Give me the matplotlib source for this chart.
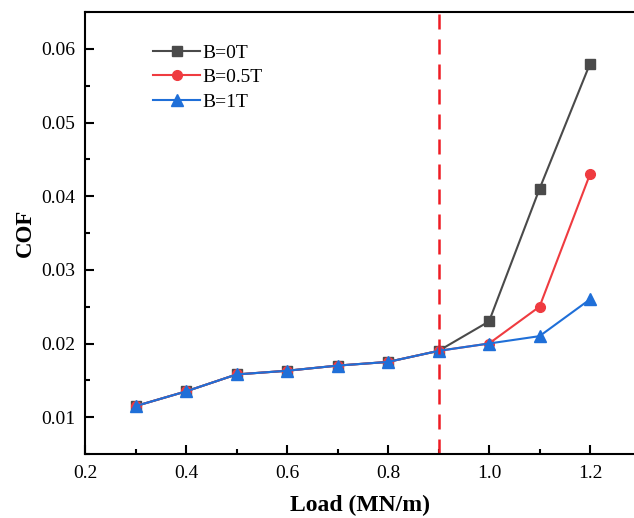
import matplotlib
matplotlib.use("Agg")
import matplotlib.pyplot as plt
from matplotlib.ticker import MultipleLocator

load = [0.3, 0.4, 0.5, 0.6, 0.7, 0.8, 0.9, 1.0, 1.1, 1.2]
cof_0T = [0.0115, 0.0135, 0.0158, 0.0163, 0.0170, 0.0175, 0.0190, 0.0230, 0.0410, 0.0580]
cof_05T = [0.0115, 0.0135, 0.0158, 0.0163, 0.0170, 0.0175, 0.0190, 0.0200, 0.0250, 0.0430]
cof_1T = [0.0115, 0.0135, 0.0158, 0.0163, 0.0170, 0.0175, 0.0190, 0.0200, 0.0210, 0.0260]
labels = ["B=0T", "B=0.5T", "B=1T"]
vline_x = 0.9

plt.rcParams['font.family'] = ['Liberation Serif', 'DejaVu Serif']

fig = plt.figure(figsize=(6.34, 5.18), dpi=100)
ax = fig.add_axes([85/634, 1-454/518, 1-85/634, (454-12)/518])

ax.plot(load, cof_0T, '-s', color='#4a4a4a', lw=1.5, ms=7, label=labels[0])
ax.plot(load, cof_05T, '-o', color='#ef3b40', lw=1.5, ms=7, label=labels[1])
ax.plot(load, cof_1T, '-^', color='#1f6fd8', lw=1.5, ms=8, label=labels[2])
ax.axvline(vline_x, color='#ee1c24', ls=(0, (6, 4)), lw=1.8)

ax.set_xlim(0.2, 1.287)
ax.set_ylim(0.005, 0.065)
ax.xaxis.set_minor_locator(MultipleLocator(0.1))
ax.yaxis.set_minor_locator(MultipleLocator(0.005))
ax.set_xticks([0.2, 0.4, 0.6, 0.8, 1.0, 1.2])
ax.set_xticklabels(['0.2', '0.4', '0.6', '0.8', '1.0', '1.2'])
ax.set_yticks([0.01, 0.02, 0.03, 0.04, 0.05, 0.06])
ax.set_yticklabels(['0.01', '0.02', '0.03', '0.04', '0.05', '0.06'])
ax.tick_params(which='major', direction='in', length=6.5, width=1.5, labelsize=14)
ax.tick_params(which='minor', direction='in', length=3.5, width=1.5)
ax.tick_params(axis='y', which='major', pad=7)
ax.tick_params(axis='x', which='major', pad=8)
ax.tick_params(top=False, right=False, which='both')
for s in ['left', 'bottom', 'top']:
    ax.spines[s].set_linewidth(1.5)
ax.spines['right'].set_visible(False)

ax.set_xlabel('Load (MN/m)', fontsize=17, fontweight='bold', labelpad=9)
ax.set_ylabel('COF', fontsize=16.5, fontweight='bold', labelpad=4)

ax.legend(loc='upper left', bbox_to_anchor=(0.11, 0.945), frameon=False, fontsize=14,
          handlelength=2.4, handletextpad=0.15, labelspacing=0.35, borderaxespad=0)

fig.savefig('out.png', dpi=100)
